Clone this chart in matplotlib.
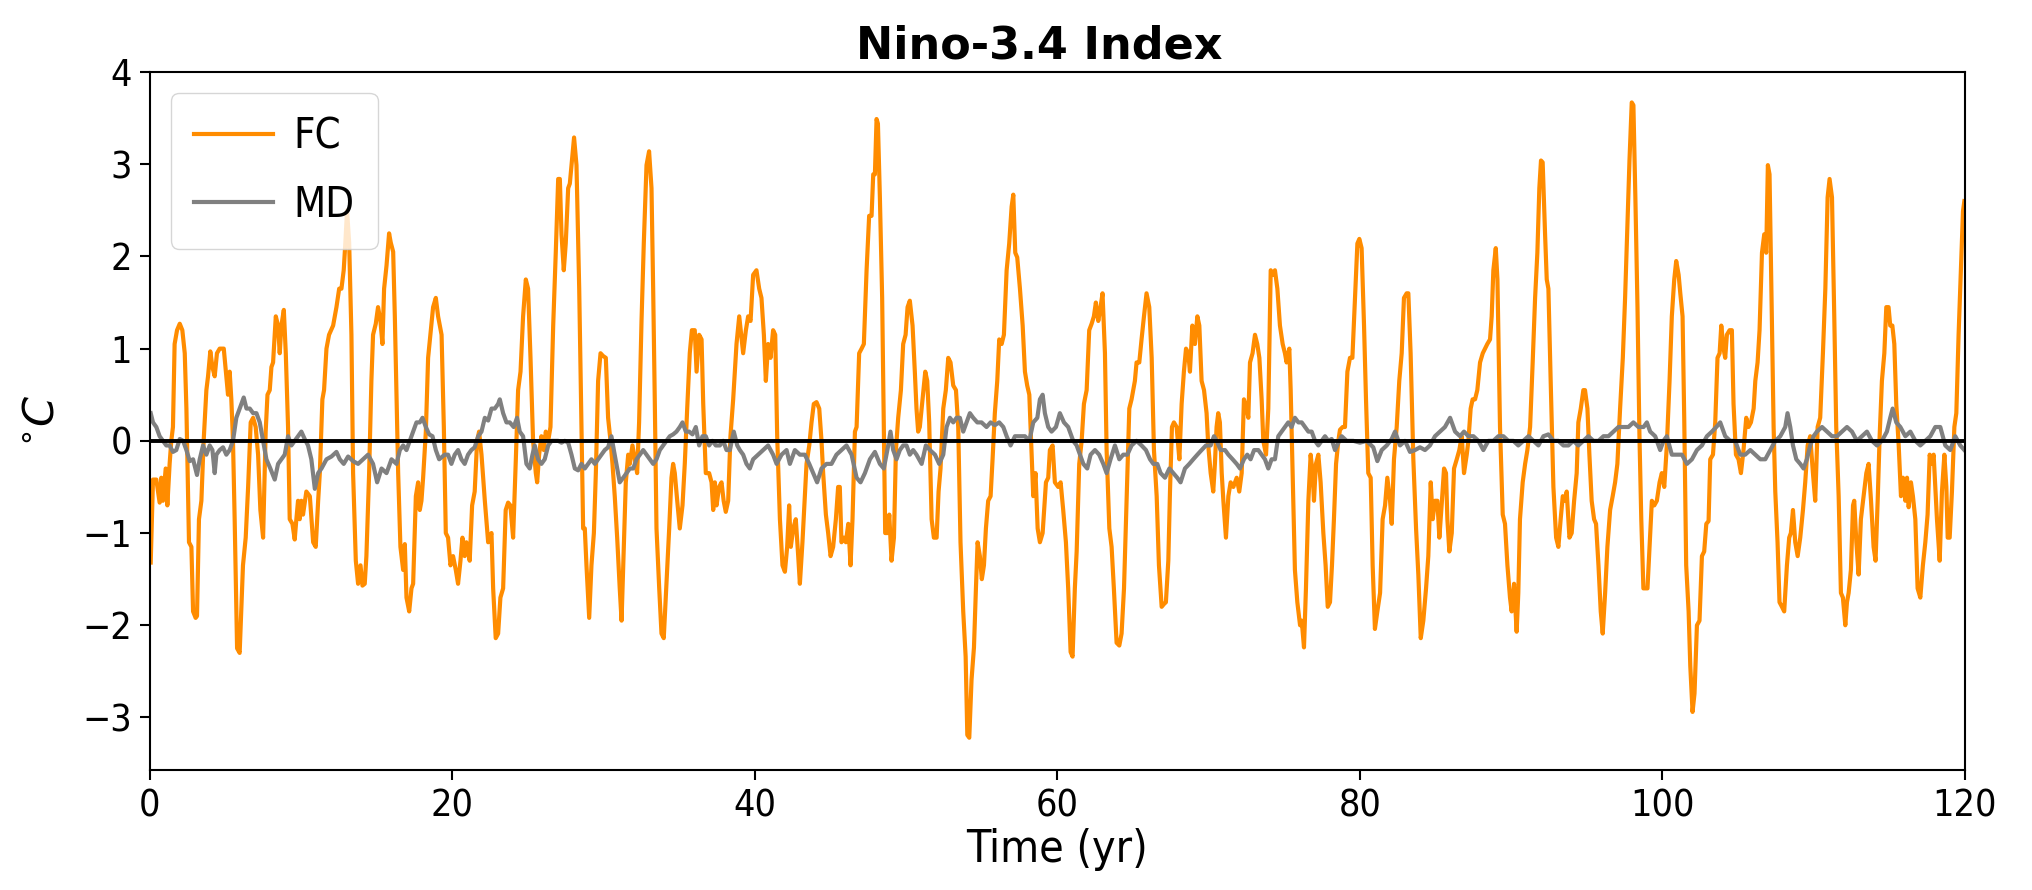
import numpy as np
import matplotlib
matplotlib.use("Agg")
import matplotlib.pyplot as plt

# Nino-3.4 index, values (time in years, value in degC)
fc_seg1 = [(0.05,-1.32),(0.20,-0.42),(0.42,-0.42),(0.64,-0.67),(0.75,-0.40),(0.86,-0.65),(1.04,-0.30),(1.15,-0.70),
           (1.30,-0.25),(1.41,0.00),(1.52,0.15),(1.63,1.05),(1.79,1.20),(1.97,1.27),(2.14,1.20),(2.30,0.95),(2.41,0.35),
           (2.58,-1.10),(2.74,-1.15),(2.85,-1.85),(3.02,-1.92),(3.11,-1.90),(3.24,-0.85),(3.40,-0.65),(3.55,0.00),
           (3.73,0.55),(3.84,0.70),(3.99,0.97),(4.13,0.80),(4.28,0.70),(4.43,0.95),(4.61,1.00),(4.88,1.00),(5.05,0.70),
           (5.16,0.50),(5.27,0.75),(5.38,0.45),(5.49,0.00),(5.60,-0.85),(5.76,-2.25),(5.93,-2.30),(6.15,-1.35),
           (6.33,-1.05),(6.49,-0.50),(6.66,0.20),(6.82,0.25),(6.99,0.15),(7.15,-0.15),(7.30,-0.75),(7.48,-1.05),
           (7.65,0.10),(7.77,0.50),(7.92,0.55),(8.03,0.80),(8.14,0.85),(8.32,1.35),(8.47,1.25),(8.58,0.95),(8.69,1.25),
           (8.85,1.42),(8.98,0.95),(9.13,0.15),(9.24,-0.85),(9.42,-0.90),(9.57,-1.07),(9.68,-0.85),(9.79,-0.65),
           (9.90,-0.85),(10.01,-0.65),(10.12,-0.80),(10.34,-0.55),(10.57,-0.60),(10.79,-1.10),(10.96,-1.15),
           (11.12,-0.65),(11.23,-0.35),(11.40,0.45),(11.51,0.55),(11.67,1.00),(11.84,1.15),(12.11,1.25),(12.33,1.45),
           (12.51,1.65),(12.66,1.65),(12.81,1.85),(12.92,2.15),(13.03,2.50),(13.17,2.15),(13.32,1.15),(13.43,-0.35),
           (13.61,-1.30),(13.76,-1.55),(13.92,-1.35),(14.05,-1.57),(14.20,-1.55),(14.31,-1.25),(14.49,-0.35),
           (14.64,0.65),(14.75,1.15),(14.93,1.27),(15.08,1.45),(15.24,1.30),(15.37,1.05),(15.48,1.65),(15.64,1.90),
           (15.81,2.25),(15.92,2.15),(16.08,2.05),(16.19,1.35),(16.41,-0.35),(16.56,-1.15),(16.74,-1.40),(16.85,-1.12),
           (16.96,-1.70),(17.14,-1.85),(17.29,-1.60),(17.40,-1.55),(17.58,-0.60),(17.73,-0.45),(17.84,-0.75),
           (17.95,-0.65),(18.06,-0.40),(18.24,0.10),(18.39,0.90),(18.57,1.20),(18.72,1.45),(18.90,1.55),(19.05,1.35),
           (19.28,1.15),(19.43,0.15)]
fc_seg2 = [(19.56,-1.00),(19.71,-1.05),(19.87,-1.35),(20.04,-1.25),(20.22,-1.40),(20.37,-1.55),(20.53,-1.30),
           (20.66,-1.05),(20.81,-1.25),(20.92,-1.10),(21.14,-1.30),(21.30,-0.70),(21.47,-0.55),(21.63,0.00),(21.76,0.10),
           (21.92,-0.15),(22.14,-0.65),(22.36,-1.10),(22.58,-1.00),(22.69,-1.60),(22.86,-2.14),(23.02,-2.09),
           (23.17,-1.70),(23.35,-1.60),(23.52,-0.75),(23.68,-0.67),(23.83,-0.70),(24.01,-1.05),(24.19,-0.20),
           (24.34,0.55),(24.50,0.75),(24.67,1.35),(24.85,1.75),(25.00,1.65),(25.16,0.90),(25.33,0.00),(25.51,-0.35),
           (25.60,-0.45),(25.73,-0.15),(25.88,0.05),(26.04,-0.10),(26.17,0.10),(26.33,0.00),(26.48,0.15),(26.66,1.25),
           (26.83,2.04),(26.99,2.84),(27.10,2.84),(27.21,2.24),(27.36,1.85),(27.49,2.14),(27.65,2.74),(27.76,2.79),
           (27.87,2.99),(28.04,3.29),(28.20,2.99),(28.38,1.65),(28.53,0.15),(28.64,-0.95),(28.75,-0.95),(28.86,-1.35),
           (29.04,-1.92),(29.19,-1.35),(29.35,-1.00),(29.48,-0.35),(29.63,0.65),(29.79,0.95),(29.96,0.92),(30.14,0.90),
           (30.29,0.25),(30.45,0.00),(30.58,-0.25),(30.73,-0.60),(30.89,-1.05),(31.06,-1.60),(31.18,-1.95),
           (31.29,-1.35),(31.46,-0.45),(31.62,-0.15),(31.73,-0.25),(31.90,-0.05),(32.06,-0.20),(32.21,-0.35),
           (32.34,0.20),(32.50,1.30),(32.65,2.14),(32.83,2.99),(33.00,3.14),(33.16,2.74),(33.27,1.65),(33.38,0.40),
           (33.49,-0.95),(33.67,-1.60),(33.82,-2.09),(33.97,-2.14),(34.15,-1.55),(34.33,-0.95),(34.48,-0.40),
           (34.59,-0.25),(34.70,-0.35),(34.86,-0.65),(35.03,-0.95),(35.21,-0.70),(35.36,-0.25),(35.52,0.35),
           (35.69,0.95),(35.83,1.20),(36.02,1.20),(36.14,0.75),(36.31,1.15),(36.47,1.10),(36.58,0.40),(36.75,-0.35),
           (36.97,-0.35),(37.13,-0.45),(37.24,-0.75),(37.35,-0.45),(37.46,-0.70),(37.63,-0.50),(37.79,-0.45),
           (37.93,-0.65),(38.07,-0.77),(38.23,-0.65),(38.38,0.05),(38.56,0.45),(38.78,1.05),(38.96,1.35)]
fc_seg3 = [(39.22,0.95),(39.40,1.20),(39.55,1.35),(39.71,1.30),(39.88,1.80),(40.10,1.85),(40.28,1.65),(40.43,1.55),
           (40.59,1.15),(40.72,0.65),(40.87,1.05),(41.03,0.90),(41.20,1.20),(41.34,1.15),(41.47,0.05),(41.65,-0.85),
           (41.82,-1.35),(41.98,-1.42),(42.13,-1.15),(42.26,-0.70),(42.37,-1.15),(42.53,-0.95),(42.70,-0.85),
           (42.86,-1.25),(42.97,-1.55),(43.14,-1.10),(43.30,-0.60),(43.41,-0.25),(43.59,-0.05),(43.74,0.20),
           (43.89,0.40),(44.07,0.42),(44.25,0.35),(44.40,0.00),(44.51,-0.35),(44.69,-0.80),(44.84,-1.00),(45.00,-1.25),
           (45.17,-1.15),(45.35,-0.85),(45.50,-0.50),(45.61,-0.50),(45.72,-1.10),(45.88,-1.05),(46.01,-1.10),
           (46.17,-0.90),(46.32,-1.35),(46.45,-0.85),(46.61,0.10),(46.72,0.15),(46.89,0.95),(47.05,1.00),(47.20,1.05),
           (47.38,1.85),(47.55,2.44),(47.71,2.44),(47.82,2.89),(47.93,2.89),(48.04,3.49),(48.13,3.44),(48.26,2.64),
           (48.41,1.55),(48.52,0.15),(48.61,-1.00),(48.77,-1.00),(48.88,-0.80),(49.03,-1.30),(49.19,-1.05),
           (49.32,-0.10),(49.47,0.25),(49.65,0.55),(49.80,1.05),(49.96,1.15),(50.09,1.45),(50.24,1.52),(50.42,1.25),
           (50.57,0.75),(50.68,0.35),(50.79,0.10),(50.90,0.15),(51.08,0.45),(51.26,0.75),(51.39,0.65),(51.52,0.20),
           (51.68,-0.85),(51.83,-1.05),(52.01,-1.05),(52.14,-0.55),(52.27,-0.30),(52.45,0.35),(52.62,0.55),
           (52.78,0.90),(52.93,0.85),(53.11,0.60),(53.29,0.55),(53.44,0.15),(53.59,-1.10),(53.77,-1.85),(53.93,-2.34),
           (54.04,-3.19),(54.17,-3.22),(54.32,-2.59),(54.48,-2.24),(54.61,-1.60),(54.72,-1.10),(54.87,-1.25),
           (55.00,-1.50),(55.14,-1.35),(55.27,-0.95),(55.42,-0.65),(55.58,-0.60),(55.71,-0.20),(55.86,0.30),
           (56.02,0.65),(56.15,1.10),(56.31,1.05),(56.46,1.15),(56.64,1.85),(56.81,2.14),(56.97,2.54),(57.08,2.67),
           (57.21,2.04),(57.34,1.99),(57.52,1.65),(57.70,1.25),(57.85,0.75),(58.00,0.60),(58.14,0.50),(58.29,-0.15),
           (58.40,-0.60),(58.55,-0.35),(58.69,-0.95),(58.84,-1.10)]
fc_seg4 = [(59.02,-1.00),(59.24,-0.45),(59.39,-0.40),(59.50,-0.10),(59.68,-0.05),(59.83,-0.45),(60.05,-0.50),
           (60.21,-0.45),(60.38,-0.75),(60.56,-1.10),(60.71,-1.60),(60.87,-2.29),(61.00,-2.34),(61.15,-1.60),
           (61.27,-1.20),(61.44,-0.25),(61.60,0.00),(61.75,0.40),(61.93,0.55),(62.10,1.20),(62.26,1.27),(62.41,1.35),
           (62.54,1.50),(62.70,1.30),(62.85,1.45),(62.98,1.60),(63.14,0.95),(63.25,-0.10),(63.43,-0.95),(63.58,-1.15),
           (63.73,-1.60),(63.91,-2.19),(64.09,-2.22),(64.24,-2.09),(64.40,-1.60),(64.57,-0.65),(64.75,0.35),
           (64.90,0.45),(65.01,0.55),(65.12,0.65),(65.23,0.85),(65.41,0.85),(65.56,1.10),(65.72,1.35),(65.89,1.60),
           (66.07,1.45),(66.23,0.90),(66.38,-0.10),(66.56,-0.60),(66.71,-1.35),(66.89,-1.80),(67.04,-1.77),
           (67.17,-1.75),(67.33,-1.30),(67.44,-0.55),(67.57,0.15),(67.70,0.20),(67.88,0.15),(68.06,-0.20),(68.21,0.40),
           (68.36,0.75),(68.50,1.00),(68.65,0.95),(68.76,0.75),(68.92,1.25),(69.09,1.05),(69.25,1.35),(69.38,1.25),
           (69.53,0.65),(69.69,0.55),(69.86,0.30),(69.97,-0.05),(70.13,-0.35),(70.30,-0.55),(70.41,-0.25),(70.52,0.15),
           (70.63,0.30),(70.74,0.20),(70.86,-0.35),(70.97,-0.65),(71.14,-1.05),(71.30,-0.60),(71.45,-0.45),
           (71.63,-0.50),(71.85,-0.40),(72.02,-0.55),(72.18,-0.35),(72.33,0.45),(72.51,0.35),(72.62,0.25),(72.73,0.85),
           (72.90,0.95),(73.06,1.15),(73.21,1.05),(73.35,0.90),(73.50,0.45),(73.61,0.00),(73.79,-0.15),(73.94,0.35),
           (74.10,1.85),(74.27,1.80),(74.38,1.85),(74.54,1.65),(74.71,1.25),(74.89,1.05),(75.04,0.95),(75.15,0.85),
           (75.33,1.00),(75.42,0.55),(75.55,-0.35),(75.70,-1.40),(75.86,-1.75),(76.04,-2.00),(76.15,-1.95),
           (76.30,-2.24),(76.43,-1.60),(76.59,-0.65),(76.74,-0.15),(76.87,-0.35),(76.96,-0.65),(77.09,-0.25),
           (77.25,-0.15),(77.40,-0.45),(77.58,-1.00),(77.73,-1.35),(77.87,-1.80),(78.02,-1.75),(78.15,-1.35),
           (78.28,-0.85),(78.42,-0.25),(78.57,0.00)]
fc_seg5 = [(78.68,0.12),(78.86,0.15),(79.01,0.15),(79.17,0.75),(79.34,0.90),(79.50,0.90),(79.67,1.55),(79.83,2.14),
           (79.96,2.19),(80.11,2.09),(80.27,1.25),(80.40,0.45),(80.55,-0.35),(80.71,-0.40),(80.84,-1.35),(80.99,-2.04),
           (81.15,-1.85),(81.33,-1.65),(81.50,-0.85),(81.66,-0.70),(81.81,-0.40),(81.99,-0.65),(82.10,-0.90),
           (82.25,-0.20),(82.43,0.15),(82.60,0.65),(82.76,0.95),(82.91,1.55),(83.09,1.60),(83.20,1.60),(83.35,0.95),
           (83.53,-0.20),(83.71,-0.95),(83.86,-1.45),(84.02,-2.14),(84.19,-1.95),(84.37,-1.60),(84.52,-1.25),
           (84.68,-0.45),(84.81,-0.85),(84.96,-0.65),(85.12,-0.65),(85.25,-1.05),(85.40,-0.70),(85.56,-0.30),
           (85.69,-0.35),(85.78,-0.85),(85.91,-1.20),(86.07,-1.00),(86.22,-0.30),(86.40,-0.20),(86.57,-0.10),
           (86.73,0.05),(86.88,-0.35),(87.06,-0.15),(87.17,0.00),(87.32,0.35),(87.45,0.45),(87.61,0.45),(87.76,0.55),
           (87.94,0.85),(88.12,0.95),(88.27,1.00),(88.42,1.05),(88.60,1.10),(88.71,1.35),(88.82,1.85),(88.98,2.09),
           (89.09,1.75),(89.26,0.15),(89.44,-0.80),(89.59,-0.90),(89.75,-1.35),(89.92,-1.70),(90.03,-1.85),
           (90.19,-1.55),(90.36,-2.07),(90.47,-1.65),(90.58,-0.85),(90.76,-0.45),(90.92,-0.25),(91.07,-0.10),
           (91.25,0.15),(91.42,0.85),(91.58,1.55),(91.73,2.04),(91.86,2.74),(91.97,3.04),(92.08,3.02),(92.24,2.24),
           (92.35,1.75),(92.46,1.65),(92.61,0.65),(92.79,-0.50),(92.97,-1.05),(93.12,-1.15),(93.27,-0.85),
           (93.41,-0.60),(93.56,-0.65),(93.67,-0.55),(93.85,-1.05),(94.00,-1.00),(94.16,-0.65),(94.33,-0.35),
           (94.44,0.20),(94.60,0.35),(94.77,0.55),(94.88,0.55),(95.04,0.35),(95.17,-0.15),(95.32,-0.65),(95.48,-0.85),
           (95.61,-0.90),(95.77,-1.35),(95.92,-1.85),(96.05,-2.09),(96.21,-1.65),(96.36,-1.15),(96.54,-0.75),
           (96.71,-0.60),(96.87,-0.45),(97.02,-0.25),(97.20,0.35),(97.38,0.90),(97.53,1.55),(97.68,2.34),(97.82,3.04),
           (97.97,3.67),(98.08,3.64),(98.21,2.64),(98.35,1.45),(98.48,0.05)]
fc_seg6 = [(98.60,-0.85),(98.74,-1.60),(98.86,-1.60),(99.01,-1.60),(99.15,-1.15),(99.30,-0.65),(99.46,-0.70),
           (99.63,-0.65),(99.81,-0.45),(99.96,-0.35),(100.12,-0.50),(100.29,-0.05),(100.47,0.65),(100.62,1.35),
           (100.78,1.75),(100.91,1.95),(101.07,1.80),(101.18,1.60),(101.33,1.35),(101.44,0.25),(101.57,-1.35),
           (101.73,-1.85),(101.84,-2.44),(101.99,-2.94),(102.12,-2.74),(102.28,-2.00),(102.45,-1.95),(102.61,-1.25),
           (102.76,-1.20),(102.90,-0.90),(103.05,-0.87),(103.16,-0.20),(103.34,-0.15),(103.49,0.20),(103.64,0.90),
           (103.78,0.95),(103.89,1.25),(104.04,1.00),(104.15,0.90),(104.26,1.15),(104.44,1.20),(104.59,1.20),
           (104.70,0.40),(104.86,-0.15),(105.03,-0.20),(105.19,-0.35),(105.36,-0.10),(105.54,0.25),(105.69,0.15),
           (105.85,0.20),(106.03,0.35),(106.14,0.65),(106.29,0.85),(106.42,1.20),(106.58,2.04),(106.73,2.24),
           (106.86,2.04),(106.97,2.99),(107.08,2.89),(107.24,1.25),(107.35,0.15),(107.46,-0.55),(107.61,-1.10),
           (107.74,-1.75),(107.90,-1.80),(108.05,-1.85),(108.23,-1.35),(108.38,-1.05),(108.49,-1.00),(108.63,-0.75),
           (108.78,-1.10),(108.94,-1.25),(109.11,-1.05),(109.29,-0.75),(109.44,-0.45),(109.60,-0.05),(109.77,0.05),
           (109.95,-0.35),(110.10,-0.65),(110.26,0.15),(110.43,0.25),(110.61,0.95),(110.77,1.65),(110.92,2.64),
           (111.05,2.84),(111.21,2.64),(111.36,1.35),(111.49,0.15),(111.65,-0.60),(111.80,-1.65),(111.93,-1.70),
           (112.09,-2.00),(112.20,-1.75),(112.31,-1.65),(112.46,-1.40),(112.60,-0.70),(112.68,-0.65),(112.82,-1.10),
           (112.97,-1.45),(113.12,-0.85),(113.30,-0.60),(113.48,-0.35),(113.63,-0.25),(113.79,-0.65),(113.96,-1.15),
           (114.09,-1.30),(114.23,-0.65),(114.36,0.05),(114.51,0.65),(114.67,0.95),(114.80,1.45),(114.95,1.45),
           (115.06,1.25),(115.20,1.25),(115.33,1.05),(115.46,0.40),(115.62,-0.05),(115.77,-0.60),(115.90,-0.40),
           (116.06,-0.65),(116.17,-0.40),(116.28,-0.72),(116.43,-0.45),(116.56,-0.60),(116.72,-0.85),(116.87,-1.60),
           (117.05,-1.70),(117.22,-1.35),(117.38,-1.10),(117.53,-0.80),(117.67,-0.15),(117.78,-0.25),(117.93,-0.15),
           (118.04,-0.50),(118.15,-0.85),(118.33,-1.30),(118.48,-0.55),(118.64,-0.15),(118.77,-0.50),(118.86,-1.05),
           (118.99,-1.05),(119.14,-0.55),(119.30,0.15),(119.43,0.30),(119.58,1.15),(119.74,1.90),(119.87,2.49),
           (119.96,2.60)]

md_seg1 = [(0.05,0.30),(0.20,0.20),(0.42,0.15),(0.64,0.05),(0.86,0.00),(1.08,-0.05),(1.30,-0.05),(1.52,-0.12),
           (1.74,-0.10),(1.97,0.02),(2.19,0.00),(2.41,-0.10),(2.63,-0.22),(2.85,-0.20),(3.11,-0.37),(3.29,-0.20),
           (3.51,-0.05),(3.73,-0.15),(3.95,-0.05),(4.13,-0.10),(4.28,-0.35),(4.39,-0.15),(4.61,-0.10),(4.83,-0.07),
           (5.05,-0.15),(5.27,-0.10),(5.49,0.00),(5.71,0.25),(5.93,0.35),(6.20,0.47),(6.38,0.35),(6.60,0.35),
           (6.82,0.30),(7.04,0.30),(7.26,0.20),(7.48,0.00),(7.70,-0.20),(7.96,-0.30),(8.25,-0.42),(8.47,-0.25),
           (8.69,-0.20),(8.91,-0.15),(9.13,0.05),(9.35,-0.05),(9.57,0.00),(9.79,0.05),(10.01,0.10),(10.23,0.02),
           (10.45,-0.05),(10.67,-0.20),(10.90,-0.52),(11.12,-0.35),(11.34,-0.30),(11.67,-0.20),(12.00,-0.17),
           (12.33,-0.12),(12.55,-0.20),(12.81,-0.25),(13.10,-0.17),(13.43,-0.22),(13.76,-0.25),(14.09,-0.20),
           (14.42,-0.15),(14.75,-0.25),(15.02,-0.45),(15.31,-0.30),(15.64,-0.35),(15.97,-0.20),(16.30,-0.25),
           (16.52,-0.10),(16.74,-0.05),(16.96,-0.10),(17.18,0.00),(17.40,0.10),(17.62,0.20),(17.84,0.20),(18.02,0.25),
           (18.24,0.15),(18.46,0.07),(18.68,0.05),(18.90,-0.10),(19.12,-0.20)]
md_seg2 = [(19.49,-0.15),(19.71,-0.15),(19.93,-0.25),(20.15,-0.15),(20.37,-0.10),(20.59,-0.20),(20.81,-0.25),
           (21.03,-0.15),(21.25,-0.10),(21.47,-0.07),(21.70,0.05),(21.92,0.10),(22.14,0.25),(22.36,0.22),(22.58,0.35),
           (22.80,0.35),(23.02,0.40),(23.13,0.45),(23.35,0.30),(23.57,0.20),(23.79,0.20),(24.05,0.15),(24.27,0.25),
           (24.45,0.10),(24.67,0.05),(24.89,-0.25),(25.11,-0.30),(25.29,-0.15),(25.44,-0.05),(25.66,-0.20),
           (25.88,-0.25),(26.10,-0.20),(26.33,-0.05),(26.55,0.00),(26.77,0.00),(26.99,0.00),(27.21,-0.02),(27.43,0.00),
           (27.65,-0.02),(27.87,-0.15),(28.09,-0.30),(28.31,-0.32),(28.53,-0.25),(28.75,-0.30),(28.97,-0.25),
           (29.19,-0.20),(29.41,-0.25),(29.63,-0.20),(29.85,-0.15),(30.07,-0.10),(30.29,-0.07),(30.51,0.05),
           (30.67,-0.10),(30.84,-0.25),(31.06,-0.45),(31.29,-0.40),(31.51,-0.35),(31.73,-0.30),(31.95,-0.30),
           (32.17,-0.20),(32.39,-0.15),(32.61,-0.10),(32.83,-0.15),(33.05,-0.20),(33.27,-0.25),(33.49,-0.20),
           (33.71,-0.10),(33.93,-0.05),(34.15,0.00),(34.37,0.05),(34.59,0.07),(34.81,0.10),(35.03,0.15),(35.21,0.20),
           (35.43,0.10),(35.65,0.10),(35.87,0.07),(36.09,0.15),(36.31,-0.05),(36.53,0.05),(36.75,0.05),(36.97,-0.05),
           (37.19,0.00),(37.41,-0.05),(37.68,-0.05),(37.90,0.00),(38.12,-0.10),(38.34,-0.10),(38.60,0.10),
           (38.83,-0.05)]
md_seg3 = [(39.00,-0.10),(39.22,-0.15),(39.44,-0.25),(39.66,-0.30),(39.88,-0.20),(40.21,-0.15),(40.54,-0.10),
           (40.87,-0.05),(41.20,-0.15),(41.43,-0.25),(41.76,-0.15),(42.09,-0.10),(42.31,-0.25),(42.64,-0.10),
           (42.97,-0.15),(43.30,-0.15),(43.59,-0.25),(43.85,-0.35),(44.11,-0.45),(44.40,-0.30),(44.73,-0.25),
           (45.06,-0.25),(45.39,-0.15),(45.72,-0.10),(46.05,-0.05),(46.39,-0.15),(46.72,-0.40),(46.98,-0.45),
           (47.27,-0.35),(47.60,-0.20),(47.93,-0.12),(48.26,-0.25),(48.52,-0.30),(48.81,-0.05),(48.96,0.10),
           (49.14,-0.10),(49.36,-0.20),(49.58,-0.10),(49.80,-0.05),(50.02,-0.05),(50.24,-0.15),(50.46,-0.10),
           (50.68,-0.15),(51.02,-0.25),(51.30,-0.05),(51.57,-0.10),(51.90,-0.15),(52.18,-0.25),(52.45,-0.15),
           (52.67,0.15),(52.89,0.25),(53.11,0.20),(53.33,0.25),(53.55,0.25),(53.77,0.10),(53.99,0.20),(54.21,0.30),
           (54.43,0.25),(54.70,0.20),(54.98,0.20),(55.31,0.15),(55.58,0.20),(55.86,0.17),(56.15,0.20),(56.42,0.15),
           (56.64,0.05),(56.90,-0.05),(57.19,0.05),(57.52,0.05),(57.85,0.05),(58.14,0.00),(58.40,0.20),(58.67,0.25)]
md_seg4 = [(58.84,0.45),(59.02,0.50),(59.17,0.30),(59.39,0.15),(59.61,0.10),(59.90,0.15),(60.16,0.30),(60.43,0.20),
           (60.71,0.15),(61.04,0.00),(61.27,-0.05),(61.49,-0.15),(61.71,-0.25),(61.97,-0.30),(62.19,-0.15),
           (62.48,-0.10),(62.76,-0.15),(63.03,-0.25),(63.25,-0.35),(63.51,-0.20),(63.80,-0.05),(64.09,-0.20),
           (64.35,-0.15),(64.62,-0.15),(64.90,-0.05),(65.23,0.00),(65.56,-0.05),(65.85,-0.10),(66.12,-0.20),
           (66.34,-0.25),(66.60,-0.25),(66.82,-0.35),(67.11,-0.40),(67.40,-0.30),(67.66,-0.35),(67.92,-0.40),
           (68.14,-0.45),(68.43,-0.30),(68.72,-0.25),(68.98,-0.20),(69.25,-0.15),(69.53,-0.10),(69.82,-0.05),
           (70.13,-0.05),(70.35,0.05),(70.52,0.00),(70.79,-0.10),(71.08,-0.10),(71.30,-0.15),(71.58,-0.20),
           (71.85,-0.25),(72.07,-0.30),(72.33,-0.20),(72.55,-0.15),(72.77,-0.20),(73.00,-0.10),(73.28,-0.10),
           (73.50,-0.15),(73.72,-0.20),(73.94,-0.30),(74.16,-0.20),(74.38,-0.20),(74.60,0.05),(74.82,0.10),
           (75.04,0.15),(75.26,0.20),(75.48,0.15),(75.70,0.25),(75.93,0.20),(76.15,0.20),(76.37,0.15),(76.59,0.10),
           (76.81,0.10),(77.03,0.00),(77.25,-0.05),(77.47,0.00),(77.69,0.05),(77.91,0.00),(78.13,0.02),(78.35,-0.10),
           (78.57,-0.02)]
md_seg5 = [(78.79,0.05),(79.12,0.00),(79.56,0.00),(80.00,-0.02),(80.44,0.00),(80.88,-0.07),(81.15,-0.22),
           (81.44,-0.10),(81.77,-0.05),(82.10,0.02),(82.32,0.10),(82.65,-0.05),(82.98,0.00),(83.31,-0.12),
           (83.64,-0.10),(83.97,-0.07),(84.30,-0.10),(84.63,-0.05),(84.96,0.05),(85.29,0.10),(85.62,0.15),(85.96,0.25),
           (86.29,0.10),(86.62,0.05),(86.88,0.10),(87.17,0.05),(87.50,0.05),(87.83,0.00),(88.16,-0.10),(88.49,0.00),
           (88.82,0.00),(89.15,0.05),(89.48,0.05),(89.81,0.00),(90.14,0.00),(90.47,-0.05),(90.81,0.00),(91.14,0.05),
           (91.47,0.00),(91.80,-0.05),(92.13,0.05),(92.46,0.07),(92.79,0.00),(93.12,0.00),(93.45,-0.05),(93.78,-0.05),
           (94.11,0.00),(94.44,-0.05),(94.77,0.00),(95.10,0.05),(95.44,0.00),(95.77,0.00),(96.10,0.05),(96.43,0.05),
           (96.76,0.10),(97.09,0.15),(97.42,0.15),(97.75,0.15),(98.08,0.20),(98.41,0.15)]
md_seg6 = [(98.75,0.15),(98.97,0.20),(99.19,0.10),(99.52,0.05),(99.85,-0.10),(100.07,0.00),(100.29,0.05),
           (100.62,-0.15),(100.96,-0.15),(101.29,-0.15),(101.62,-0.25),(101.95,-0.20),(102.28,-0.10),(102.61,-0.05),
           (102.94,0.05),(103.27,0.10),(103.56,0.15),(103.82,0.20),(104.15,0.05),(104.48,0.00),(104.81,0.00),
           (105.14,-0.15),(105.47,-0.15),(105.81,-0.10),(106.14,-0.15),(106.47,-0.20),(106.80,-0.20),(107.13,-0.10),
           (107.46,0.00),(107.79,0.05),(108.12,0.15),(108.27,0.30),(108.45,0.15),(108.63,-0.05),(108.85,-0.20),
           (109.11,-0.25),(109.33,-0.30),(109.55,-0.20),(109.77,-0.05),(109.99,0.05),(110.21,0.10),(110.55,0.15),
           (110.88,0.10),(111.21,0.05),(111.54,0.05),(111.87,0.10),(112.20,0.15),(112.53,0.10),(112.86,0.00),
           (113.19,0.05),(113.52,0.10),(113.85,0.00),(114.18,-0.05),(114.51,0.00),(114.84,0.10),(115.06,0.25),
           (115.22,0.35),(115.46,0.20),(115.73,0.15),(116.06,0.05),(116.39,0.10),(116.72,0.00),(117.05,-0.05),
           (117.38,0.00),(117.71,0.05),(118.04,0.15),(118.37,0.15),(118.70,-0.05),(119.03,-0.10),(119.36,0.05),
           (119.69,-0.05),(119.96,-0.10)]

fc = np.array(fc_seg1 + fc_seg2 + fc_seg3 + fc_seg4 + fc_seg5 + fc_seg6)
md = np.array(md_seg1 + md_seg2 + md_seg3 + md_seg4 + md_seg5 + md_seg6)

plt.rcParams['font.family'] = ['DejaVu Sans']
plt.rcParams['axes.linewidth'] = 1.5

fig = plt.figure(figsize=(20.32, 8.9), dpi=100)
ax = fig.add_axes([0.0738, 0.1348, 0.8932, 0.7843])

ax.plot(fc[:, 0], fc[:, 1], color='darkorange', lw=3.0, label='FC')
ax.plot(md[:, 0], md[:, 1], color='gray', lw=3.0, label='MD')
ax.axhline(0, color='black', lw=2.8, zorder=3)

ax.set_xlim(0, 120)
ax.set_ylim(-3.57, 4)
ax.set_xticks(np.arange(0, 121, 20))
ax.set_yticks(np.arange(-3, 5, 1))
ax.tick_params(labelsize=27, length=7, width=1.5, pad=6)
for lab in ax.get_xticklabels() + ax.get_yticklabels():
    lab.set_fontstretch('condensed')

ax.set_title('Nino-3.4 Index', fontsize=32, fontweight='bold', pad=10, x=0.49)
ax.set_xlabel('Time (yr)', fontsize=32, fontstretch='condensed', labelpad=3)
ax.set_ylabel(r'$^{\circ}C$', fontsize=31, labelpad=14)
ax.legend(loc='upper left', prop={'size': 30, 'stretch': 'condensed'},
          labelspacing=0.62, handlelength=1.9, handletextpad=0.5, borderpad=0.55)

fig.savefig('out.png', dpi=100)
